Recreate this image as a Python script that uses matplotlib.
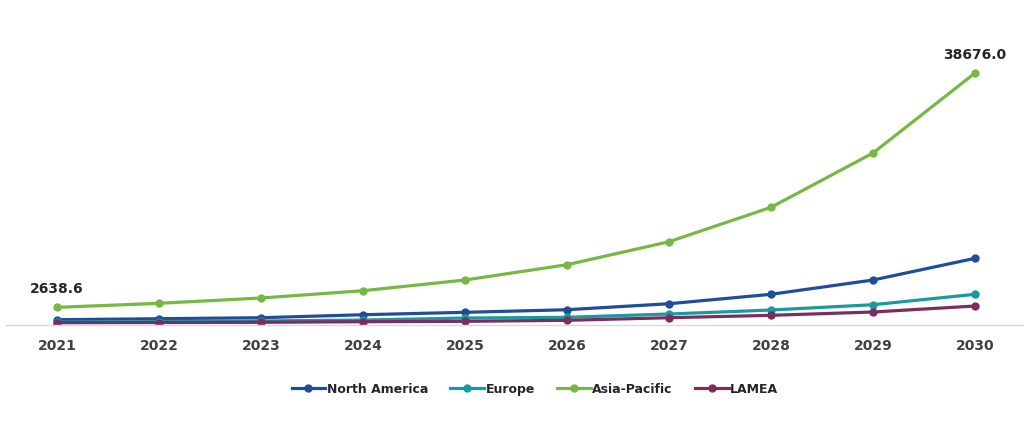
import matplotlib
matplotlib.use("Agg")
import matplotlib.pyplot as plt

years = ["2021", "2022", "2023", "2024", "2025", "2026", "2027", "2028", "2029", "2030"]
north_america = [738, 892, 1046, 1507, 1876, 2276, 3199, 4645, 6844, 10181]
europe = [385, 460, 540, 690, 1000, 1107, 1615, 2230, 3045, 4645]
asia_pacific = [2638.6, 3261, 4076, 5198, 6844, 9197, 12735, 18025, 26377, 38676.0]
lamea = [277, 308, 340, 430, 490, 646, 1046, 1415, 1922, 2845]

series = [
    ("North America", north_america, "#1F4E99"),
    ("Europe", europe, "#1A9AA0"),
    ("Asia-Pacific", asia_pacific, "#77B843"),
    ("LAMEA", lamea, "#7B2D5E"),
]

fig = plt.figure(figsize=(10.24, 4.39), dpi=100)
ax = fig.add_axes([6 / 1024, 0.2585, 1020 / 1024, 0.6665])

x = list(range(len(years)))
for name, vals, col in series:
    ax.plot(x, vals, color=col, linewidth=2.3, marker="o", markersize=5, label=name)

# data labels on Asia-Pacific ends
for i in (0, len(years) - 1):
    ax.annotate(f"{asia_pacific[i]:.1f}", (x[i], asia_pacific[i]),
                xytext=(0, 9), textcoords="offset points", ha="center", va="bottom",
                fontsize=10, fontweight="bold", color="#262626")

ax.set_xlim(-0.5, 9.5)
ax.set_ylim(0, 45000)
ax.set_xticks(x)
ax.set_xticklabels(years, fontsize=10, fontweight="bold", color="#404040")
ax.tick_params(axis="x", length=0, pad=10)
ax.set_yticks([])
for s in ("top", "right", "left"):
    ax.spines[s].set_visible(False)
ax.spines["bottom"].set_color("#D9D9D9")
ax.spines["bottom"].set_linewidth(1)

ax.legend(loc="center", bbox_to_anchor=((535 - 6) / 1020, -0.22), ncol=4, frameon=False,
          prop={"size": 9, "weight": "bold"}, handlelength=2.7, columnspacing=1.8,
          handletextpad=0.1, labelcolor="#262626")

fig.savefig("out.png", dpi=100, facecolor="white")
